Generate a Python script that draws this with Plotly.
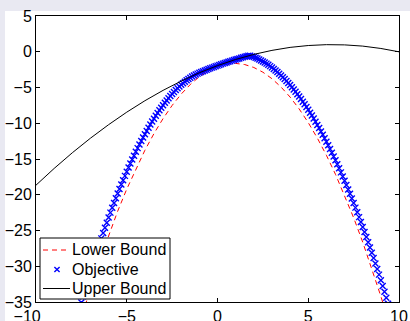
import plotly.graph_objects as go

# ---- data ----
x_ticks = [-10, -5, 0, 5, 10]
x_tick_text = ["\u221210\u00a0\u00a0\u00a0\u00a0", "\u22125", "0", "5", "10"]
y_ticks = [5, 0, -5, -10, -15, -20, -25, -30, -35]
series_names = ["Lower Bound", "Objective", "Upper Bound"]

upper_x = [-10, -9, -8, -7, -6, -5, -4, -3, -2, -1, 0, 1, 2, 3, 4, 5, 6, 7, 8, 9, 10]
upper_y = [-18.66, -16.32, -14.13, -12.09, -10.20, -8.45, -6.85, -5.40, -4.10, -2.94,
           -1.94, -1.08, -0.37, 0.19, 0.61, 0.87, 0.99, 0.96, 0.79, 0.46, -0.01]

lower_x = [-8, -7.5, -7, -6.5, -6, -5.5, -5, -4.5, -4, -3.5, -3, -2.5, -2, -1.5, -1, -0.5,
           0, 0.5, 1, 1.5, 2, 2.5, 3, 3.5, 4, 4.5, 5, 5.5, 6, 6.5, 7, 7.5, 8, 8.5, 9, 9.5, 10]
lower_y = [-41.50, -37.16, -33.07, -29.23, -25.64, -22.30, -19.21, -16.37, -13.78, -11.44,
           -9.35, -7.51, -5.92, -4.58, -3.49, -2.65, -2.06, -1.72, -1.63, -1.79, -2.20,
           -2.86, -3.77, -4.93, -6.34, -8.00, -9.91, -12.07, -14.48, -17.14, -20.05,
           -23.21, -26.62, -30.28, -34.19, -38.35, -42.76]

obj_x_start = -7.5
obj_x_step = 0.1
obj_y = [
    -35.06, -34.19, -33.32, -32.47, -31.63, -30.81, -29.99, -29.19, -28.40, -27.62,
    -26.85, -26.10, -25.35, -24.62, -23.90, -23.19, -22.50, -21.81, -21.14, -20.48,
    -19.83, -19.20, -18.57, -17.96, -17.36, -16.77, -16.19, -15.62, -15.07, -14.53,
    -14.00, -13.48, -12.98, -12.48, -12.00, -11.53, -11.07, -10.62, -10.19, -9.77,
    -9.36, -8.96, -8.57, -8.19, -7.83, -7.48, -7.14, -6.81, -6.50, -6.19,
    -5.90, -5.62, -5.35, -5.10, -4.85, -4.62, -4.40, -4.19, -3.99, -3.81,
    -3.63, -3.47, -3.32, -3.18, -3.06, -2.94, -2.84, -2.73, -2.63, -2.52,
    -2.42, -2.32, -2.22, -2.13, -2.03, -1.94, -1.85, -1.75, -1.66, -1.58,
    -1.49, -1.40, -1.32, -1.24, -1.16, -1.08, -1.00, -0.93, -0.85, -0.78,
    -0.71, -0.64, -0.57, -0.57, -0.65, -0.74, -0.84, -0.95, -1.07, -1.21,
    -1.35, -1.50, -1.66, -1.83, -2.01, -2.20, -2.40, -2.61, -2.83, -3.07,
    -3.31, -3.56, -3.82, -4.09, -4.37, -4.66, -4.96, -5.27, -5.59, -5.93,
    -6.27, -6.62, -6.98, -7.35, -7.73, -8.12, -8.52, -8.93, -9.35, -9.79,
    -10.23, -10.68, -11.14, -11.61, -12.09, -12.58, -13.08, -13.59, -14.11, -14.65,
    -15.19, -15.74, -16.30, -16.87, -17.45, -18.04, -18.64, -19.25, -19.87, -20.51,
    -21.15, -21.80, -22.46, -23.13, -23.81, -24.50, -25.20, -25.91, -26.63, -27.37,
    -28.11, -28.86, -29.62, -30.39, -31.17, -31.96, -32.76, -33.57, -34.39, -35.23,
]
obj_x = [round(obj_x_start + obj_x_step * i, 1) for i in range(len(obj_y))]

# ---- styling ----
W, H = 410, 321
ML, MR, MT, MB = 36, 11, 16, 19
PW, PH = W - ML - MR, H - MT - MB
FONT = "Liberation Sans, Arial, Helvetica, sans-serif"
RED, BLUE, BLACK = "#FF0000", "#0000FF", "#000000"
DASH = "5px,4px"


def px_x(p):
    return (p - ML) / PW


def px_y(p):
    return (H - MB - p) / PH


fig = go.Figure()
fig.add_trace(go.Scatter(
    x=lower_x, y=lower_y, mode="lines", name=series_names[0],
    line=dict(color=RED, width=1, dash=DASH),
))
fig.add_trace(go.Scatter(
    x=obj_x, y=obj_y, mode="markers", name=series_names[1],
    marker=dict(symbol="x-thin", size=6, color=BLUE,
                line=dict(color=BLUE, width=1.4)),
))
fig.add_trace(go.Scatter(
    x=upper_x, y=upper_y, mode="lines", name=series_names[2],
    line=dict(color=BLACK, width=1),
))

axis_common = dict(
    showgrid=False, zeroline=False, showline=True, linecolor="black", linewidth=1,
    mirror="ticks", ticks="inside", ticklen=4, tickwidth=1, tickcolor="black",
    automargin=False,
    tickfont=dict(family=FONT, size=16, color="black"),
)

fig.update_xaxes(range=[-10, 10], tickvals=x_ticks, ticktext=x_tick_text,
                 ticklabelstandoff=0, **axis_common)
fig.update_yaxes(range=[-35, 5], tickvals=y_ticks, **axis_common)

shapes = []
# background band (lavender on top and left edges)
shapes.append(dict(type="rect", xref="paper", yref="paper",
                   x0=px_x(5), x1=px_x(W + 5), y0=px_y(H + 5), y1=px_y(11),
                   fillcolor="white", line=dict(width=0), layer="below"))

# legend box (MATLAB style) drawn in pixel-derived paper coordinates
LX0, LX1, LY0, LY1 = 40, 170, 238, 299
row_y = [250, 269.5, 288.5]
shapes.append(dict(type="rect", xref="paper", yref="paper",
                   x0=px_x(LX0), x1=px_x(LX1), y0=px_y(LY1), y1=px_y(LY0),
                   fillcolor="white", line=dict(color="black", width=1), layer="above"))
shapes.append(dict(type="line", xref="paper", yref="paper",
                   x0=px_x(43), x1=px_x(70), y0=px_y(row_y[0]), y1=px_y(row_y[0]),
                   line=dict(color=RED, width=1, dash=DASH), layer="above"))
cx, cy, r = 57, row_y[1], 2.6
shapes.append(dict(type="path", xref="paper", yref="paper",
                   path=(f"M {px_x(cx - r)},{px_y(cy - r)} L {px_x(cx + r)},{px_y(cy + r)} "
                         f"M {px_x(cx - r)},{px_y(cy + r)} L {px_x(cx + r)},{px_y(cy - r)}"),
                   line=dict(color=BLUE, width=1.4), layer="above"))
shapes.append(dict(type="line", xref="paper", yref="paper",
                   x0=px_x(43), x1=px_x(70), y0=px_y(row_y[2]), y1=px_y(row_y[2]),
                   line=dict(color=BLACK, width=1), layer="above"))

annotations = []
for name, ry in zip(series_names, row_y):
    annotations.append(dict(
        x=px_x(70), y=px_y(ry), xref="paper", yref="paper",
        text=name, showarrow=False, xanchor="left", yanchor="middle",
        font=dict(family=FONT, size=16, color="black"),
    ))

fig.update_layout(
    width=W, height=H,
    margin=dict(l=ML, r=MR, t=MT, b=MB, pad=0, autoexpand=False),
    paper_bgcolor="#E9E9F2", plot_bgcolor="white",
    font=dict(family=FONT, size=16, color="black"),
    showlegend=False,
    shapes=shapes,
    annotations=annotations,
)

fig.write_html("out.html", config={"displayModeBar": False},
               post_script="document.body.style.margin='0';")
